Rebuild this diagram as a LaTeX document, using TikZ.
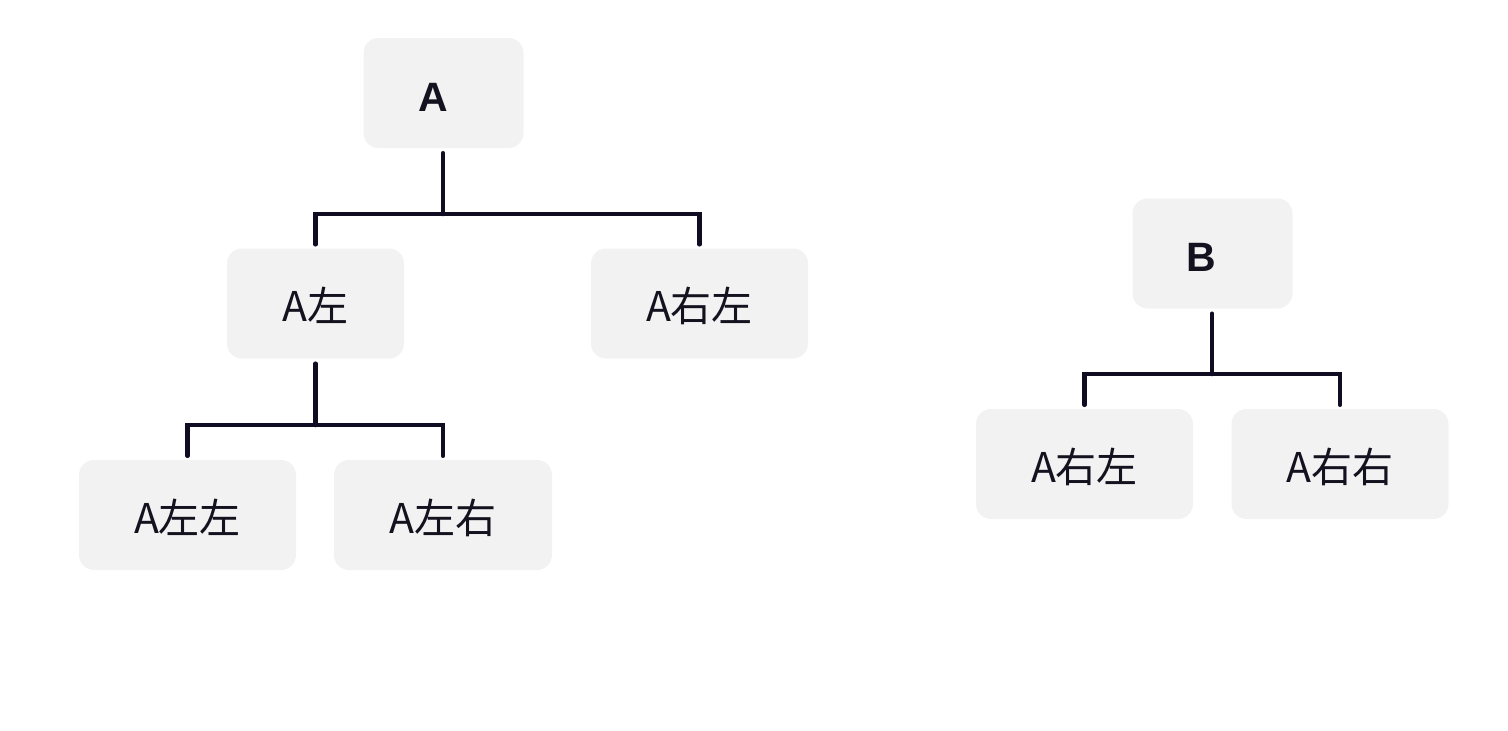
\documentclass[tikz,border=0pt]{standalone}
\usepackage{fontspec}
\setmainfont{Noto Sans CJK SC}
\newfontfamily\latinbold{Liberation Sans}
\definecolor{boxfill}{HTML}{F2F2F2}
\definecolor{ink}{HTML}{15121F}
\definecolor{linec}{HTML}{100D22}
\begin{document}
\begin{tikzpicture}[x=1pt,y=-1pt,
  box/.style={fill=boxfill,rounded corners=15pt,minimum height=110pt,inner sep=0pt,text height=38pt,text depth=2pt,text=ink,font=\fontsize{41}{46}\selectfont},
  rootbox/.style={box,minimum width=160pt},
  rootlab/.style={text=ink,inner sep=0pt,font=\latinbold\bfseries\fontsize{41}{46}\selectfont},
  conn/.style={draw=linec,line width=4.5pt,line cap=round}]
\useasboundingbox (0,0) rectangle (1508,731);
% tree A
\node[rootbox] (A) at (443.5,93) {};
\node[rootlab] (Alab) at (433.5,97) {A};
\node[box,minimum width=177pt] (AL) at (315.5,303.5) {A左};
\node[box,minimum width=217pt] (ARL) at (699.5,303.5) {A右左};
\node[box,minimum width=217pt] (ALL) at (187.5,515) {A左左};
\node[box,minimum width=218pt] (ALR) at (443,515) {A左右};
% tree B
\node[rootbox] (B) at (1212.5,253.5) {};
\node[rootlab] (Blab) at (1201.5,257.5) {B};
\node[box,minimum width=217pt] (BRL) at (1084.5,464) {A右左};
\node[box,minimum width=217pt] (BRR) at (1340,464) {A右右};
% junctions
\coordinate (jA) at (443,214);
\coordinate (jAL) at (315.5,425);
\coordinate (jB) at (1212,374);
% connectors
\draw[conn] ([yshift=-5pt]A.south -| jA) -- (jA);
\draw[conn] ([yshift=4pt]AL.north) |- (jA) -| ([yshift=4pt]ARL.north);
\draw[conn] ([yshift=-5pt]AL.south) -- (jAL);
\draw[conn] ([yshift=4pt]ALL.north) |- (jAL) -| ([yshift=4pt]ALR.north);
\draw[conn] ([yshift=-5pt]B.south -| jB) -- (jB);
\draw[conn] ([yshift=4pt]BRL.north) |- (jB) -| ([yshift=4pt]BRR.north);
\end{tikzpicture}
\end{document}
